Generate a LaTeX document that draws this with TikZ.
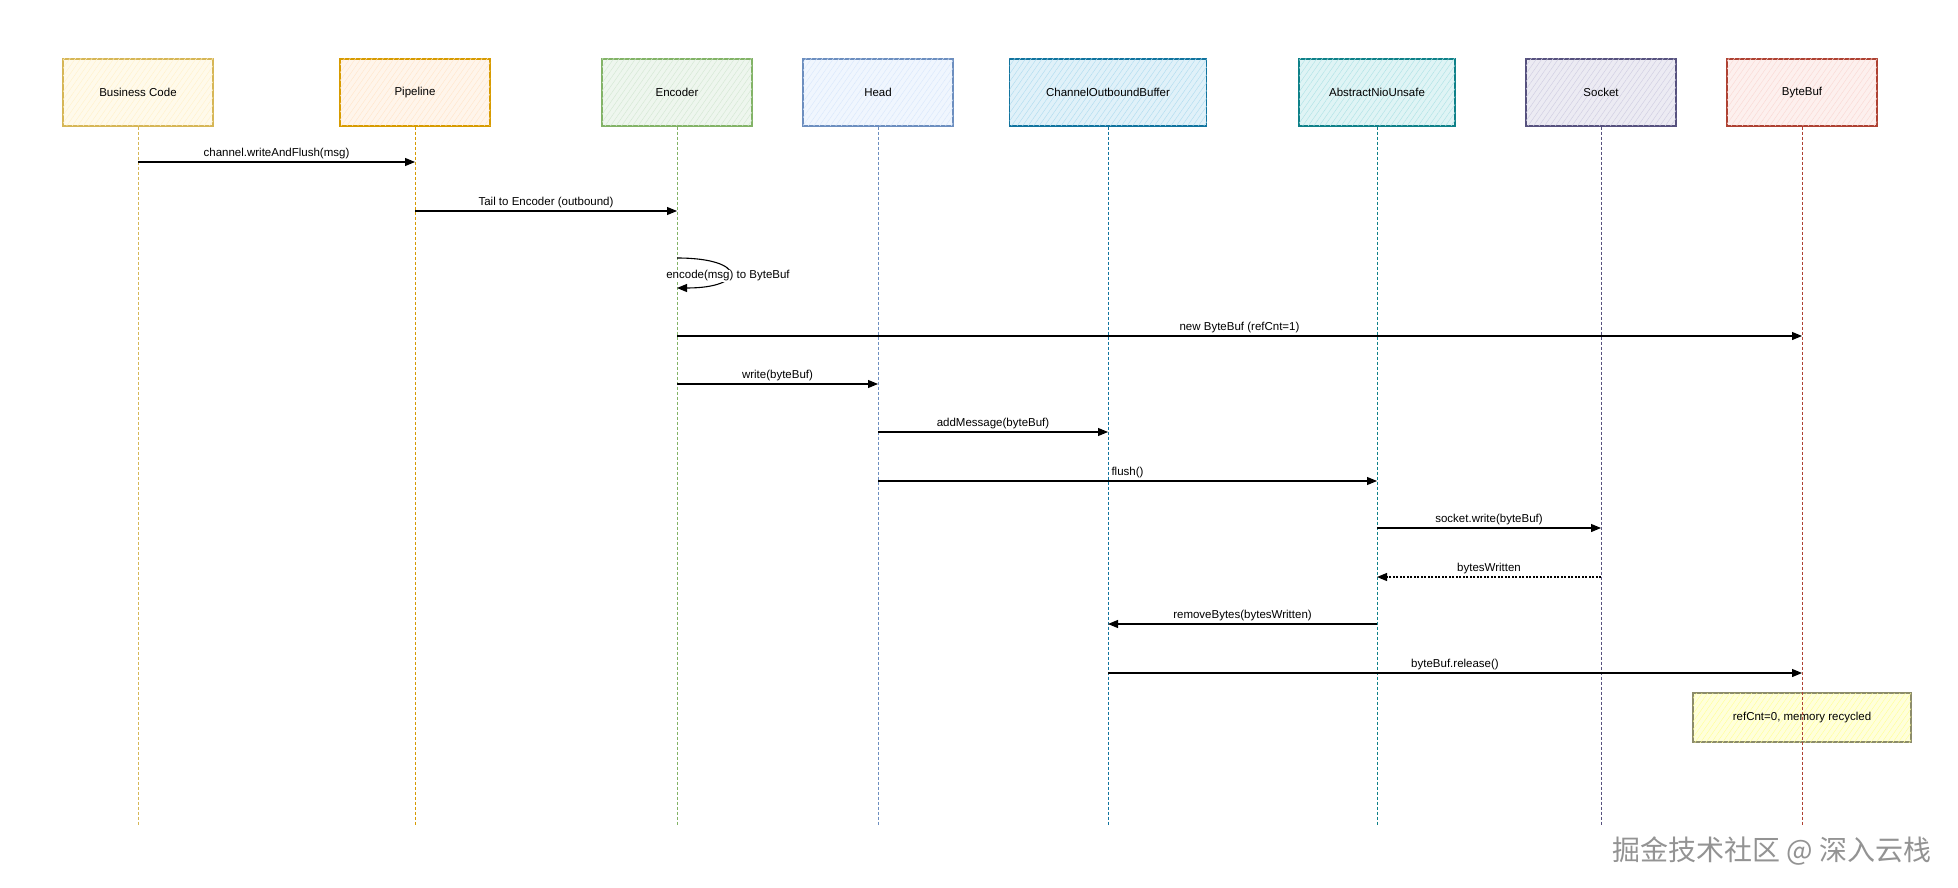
\documentclass[tikz,border=0pt]{standalone}
\usepackage{fontspec}
\setmainfont{Liberation Sans}
\newfontfamily\cjk{Noto Sans CJK SC}
\usepackage{tikz}
\usetikzlibrary{arrows.meta, patterns.meta, calc}
\usepackage{xcolor}
\definecolor{bcFill}{HTML}{FFF2CC}\definecolor{bcLine}{HTML}{D6B656}
\definecolor{pipeFill}{HTML}{FFE6CC}\definecolor{pipeLine}{HTML}{D79B00}
\definecolor{encFill}{HTML}{D5E8D4}\definecolor{encLine}{HTML}{82B366}
\definecolor{headFill}{HTML}{DAE8FC}\definecolor{headLine}{HTML}{6C8EBF}
\definecolor{cobFill}{HTML}{B1DDF0}\definecolor{cobLine}{HTML}{10739E}
\definecolor{anuFill}{HTML}{B0E3E6}\definecolor{anuLine}{HTML}{0E8088}
\definecolor{sockFill}{HTML}{D0CEE2}\definecolor{sockLine}{HTML}{56517E}
\definecolor{bbufFill}{HTML}{FAD9D5}\definecolor{bbufLine}{HTML}{AE4132}
\definecolor{notaFill}{HTML}{FFFF99}\definecolor{notaLine}{HTML}{8C8C6A}
\newcommand{\testo}{\fontsize{11.5}{13}\selectfont}

\begin{document}
\begin{tikzpicture}[x = 1pt, y = -1pt,
    partecipante/.style 2 args = {draw = #1, fill = #2!40!white, line width = 1.1pt,
        minimum width = 150pt, minimum height = 67pt, font = \testo,
        postaction = {pattern = {Lines[angle = 55, distance = 4.5pt, line width = 0.45pt]}, pattern color = #2}},
    vita/.style = {draw = #1, line width = 0.9pt, dash pattern = on 3pt off 2pt},
    msg/.style = {-{Triangle[length = 10pt, width = 8pt]}, line width = 1.1pt},
    ritorno/.style = {msg, dash pattern = on 2pt off 1.5pt},
    lbl/.style = {above = 1pt, inner sep = 1.5pt, font = \testo}]
    
    % Sfondo e dimensioni
    \useasboundingbox (0,0) rectangle (1958,888);
    \fill[white] (0,0) rectangle (1958,888);
    
    % Partecipanti
    \node[partecipante = {bcLine}{bcFill}] (bc) at (138,92.5) {Business Code};
    \node[partecipante = {pipeLine}{pipeFill}] (pipe) at (415,92.5) {Pipeline};
    \node[partecipante = {encLine}{encFill}] (enc) at (677,92.5) {Encoder};
    \node[partecipante = {headLine}{headFill}] (head) at (878,92.5) {Head};
    \node[partecipante = {cobLine}{cobFill}, minimum width = 197pt] (cob) at (1108,92.5) {ChannelOutboundBuffer};
    \node[partecipante = {anuLine}{anuFill}, minimum width = 156pt] (anu) at (1377,92.5) {AbstractNioUnsafe};
    \node[partecipante = {sockLine}{sockFill}] (sock) at (1601,92.5) {Socket};
    \node[partecipante = {bbufLine}{bbufFill}] (bbuf) at (1802,92.5) {ByteBuf};
    
    % Righe dei messaggi
    \coordinate (fondo) at (0,826);
    \coordinate (r1) at (0,162);
    \coordinate (r2) at (0,211);
    \coordinate (r3) at (0,258);
    \coordinate (r3b) at (0,288);
    \coordinate (r4) at (0,336);
    \coordinate (r5) at (0,384);
    \coordinate (r6) at (0,432);
    \coordinate (r7) at (0,481);
    \coordinate (r8) at (0,528);
    \coordinate (r9) at (0,577);
    \coordinate (r10) at (0,624);
    \coordinate (r11) at (0,673);
    \coordinate (r12) at (0,717.5);
    
    % Nota sotto ByteBuf
    \node[draw = notaLine, fill = notaFill!35!white, line width = 1.1pt, minimum width = 218pt, minimum height = 49pt, font = \testo,
        postaction = {pattern = {Lines[angle = 55, distance = 4.5pt, line width = 0.45pt]}, pattern color = notaFill}]
        (nota) at (bbuf |- r12) {refCnt=0, memory recycled};
    
    % Linee di vita
    \foreach \p/\c in {bc/bcLine, pipe/pipeLine, enc/encLine, head/headLine, cob/cobLine, anu/anuLine, sock/sockLine, bbuf/bbufLine}{
        \draw[vita = \c] (\p.south) -- (\p.south |- fondo);
    };
    
    % Messaggi
    \draw[msg] (bc |- r1) -- node[lbl]{channel.writeAndFlush(msg)} (pipe |- r1);
    \draw[msg] (pipe |- r2) -- node[lbl]{Tail to Encoder (outbound)} (enc |- r2);
    % encode su se stesso
    \draw[msg] (enc |- r3) .. controls +(70,0) and +(70,0) .. (enc |- r3b);
    \node[fill = white, inner sep = 1pt, font = \testo] (enclbl) at (728,276) {encode(msg) to ByteBuf};
    \draw[msg] (enc |- r4) -- node[lbl]{new ByteBuf (refCnt=1)} (bbuf |- r4);
    \draw[msg] (enc |- r5) -- node[lbl]{write(byteBuf)} (head |- r5);
    \draw[msg] (head |- r6) -- node[lbl]{addMessage(byteBuf)} (cob |- r6);
    \draw[msg] (head |- r7) -- node[lbl]{flush()} (anu |- r7);
    \draw[msg] (anu |- r8) -- node[lbl]{socket.write(byteBuf)} (sock |- r8);
    \draw[ritorno] (sock |- r9) -- node[lbl]{bytesWritten} (anu |- r9);
    \draw[msg] (anu |- r10) -- node[lbl]{removeBytes(bytesWritten)} (cob |- r10);
    \draw[msg] (cob |- r11) -- node[lbl]{byteBuf.release()} (bbuf |- r11);
    
    % Firma
    \node[anchor = east, font = \cjk\fontsize{28}{32}\selectfont, text = gray!85] (firma) at (1935,851) {掘金技术社区 @ 深入云栈};
\end{tikzpicture}
\end{document}
